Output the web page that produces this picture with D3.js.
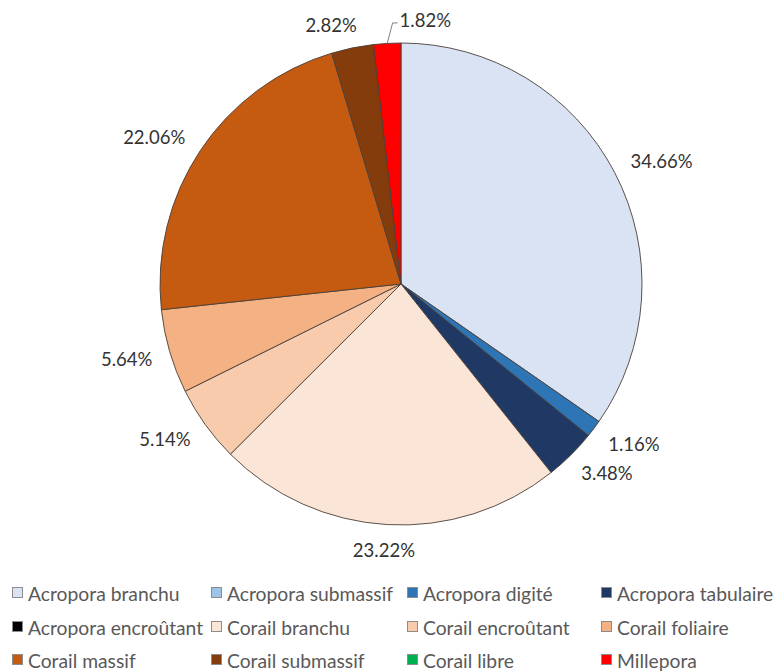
<!DOCTYPE html>
<html>
<head>
<meta charset="utf-8">
<script src="https://cdn.jsdelivr.net/npm/d3@7"></script>
<style>
  html, body { margin: 0; padding: 0; background: #fff; }
  svg { display: block; }
</style>
</head>
<body>
<svg id="chart" width="783" height="672"></svg>
<script>
// Coral cover by growth form (%)
const categories = [
  "Acropora branchu", "Acropora submassif", "Acropora digité", "Acropora tabulaire",
  "Acropora encroûtant", "Corail branchu", "Corail encroûtant", "Corail foliaire",
  "Corail massif", "Corail submassif", "Corail libre", "Millepora"
];
const values = [34.66, 0, 1.16, 3.48, 0, 23.22, 5.14, 5.64, 22.06, 2.82, 0, 1.82];
const colors = [
  "#dae3f3", "#9dc3e6", "#2e75b6", "#203864",
  "#000000", "#fbe5d6", "#f8cbad", "#f4b183",
  "#c55a11", "#843c0c", "#00b050", "#ff0000"
];

const data = categories.map((c, i) => ({ category: c, value: values[i], color: colors[i] }));

const svg = d3.select("#chart");
const cx = 401, cy = 284, R = 241;
const labelFont = "Lato, 'Liberation Sans', sans-serif";

const pie = d3.pie().sort(null).value(d => d.value);
const arcs = pie(data);
const arc = d3.arc().innerRadius(0).outerRadius(R);

const g = svg.append("g").attr("transform", `translate(${cx},${cy})`);

g.selectAll("path.slice")
  .data(arcs.filter(d => d.data.value > 0))
  .join("path")
  .attr("class", "slice")
  .attr("d", arc)
  .attr("fill", d => d.data.color)
  .attr("stroke", "#4a3f38")
  .attr("stroke-width", 0.9)
  .attr("stroke-linejoin", "round");

// Outside-end data labels
const gap = 18;
const nudges = {
  "Corail submassif": { dx: -11, dy: 2 },
  "Millepora": { dx: 41, dy: 1.5, leader: true }
};

const labels = g.append("g");
arcs.filter(d => d.data.value > 0).forEach(d => {
  const a = (d.startAngle + d.endAngle) / 2;
  const s = Math.sin(a), c = -Math.cos(a);
  const t = labels.append("text")
    .text(d.data.value.toFixed(2) + "%")
    .attr("font-family", labelFont)
    .attr("font-size", 18.5)
    .attr("fill", "#333")
    .attr("text-anchor", "middle")
    .attr("dominant-baseline", "central");
  const w = t.node().getComputedTextLength();
  const fx = Math.sign(s) * Math.min(1, Math.abs(s) * 1.3);
  let x = (R + gap) * s + (w / 2) * fx;
  let y = (R + gap) * c + 7 * c;
  const n = nudges[d.data.category];
  if (n) { x += n.dx; y += n.dy; }
  t.attr("x", x).attr("y", y);
  if (n && n.leader) {
    const left = x - w / 2;
    const ex = R * s, ey = R * c;
    labels.append("polyline")
      .attr("points", `${ex},${ey} ${left - 7},${y + 3} ${left - 2},${y + 3}`)
      .attr("fill", "none")
      .attr("stroke", "#7f7f7f")
      .attr("stroke-width", 1);
  }
});

// Legend: four columns, three rows; long entries push the next one along
const colX = [12, 211, 407, 601];
const rowY = [593, 627, 660];
const legend = svg.append("g");
let prevEnd = 0;
data.forEach((d, i) => {
  const col = i % 4, row = Math.floor(i / 4);
  if (col === 0) prevEnd = 0;
  const x = Math.max(colX[col], prevEnd + 4);
  const y = rowY[row];
  legend.append("rect")
    .attr("x", x + 0.5).attr("y", y - 5.5)
    .attr("width", 10).attr("height", 10)
    .attr("fill", d.color)
    .attr("stroke", "#8c8c8c")
    .attr("stroke-width", 1);
  const t = legend.append("text")
    .attr("x", x + 16).attr("y", y)
    .attr("dominant-baseline", "central")
    .attr("font-family", labelFont)
    .attr("font-size", 19.3)
    .attr("fill", "#595959")
    .text(d.category);
  prevEnd = x + 16 + t.node().getComputedTextLength();
});
</script>
</body>
</html>
